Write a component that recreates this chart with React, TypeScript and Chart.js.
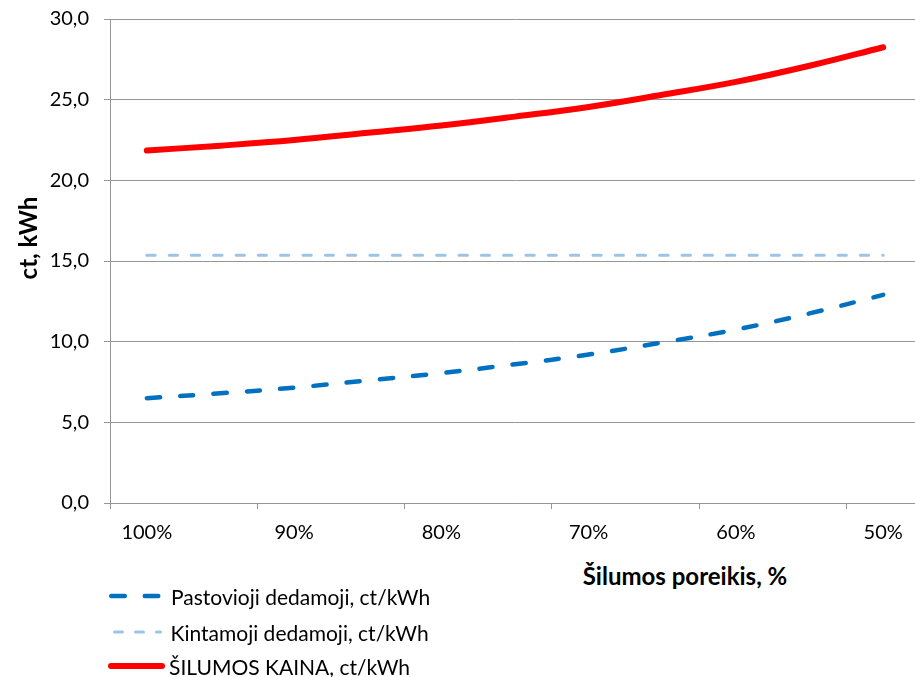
import React, { useEffect, useRef } from "react";
import { Chart, registerables } from "chart.js";

Chart.register(...registerables);

// ---- data ----
const categories = ["100%", "95%", "90%", "85%", "80%", "75%", "70%", "65%", "60%", "55%", "50%"];
const pastovioji = [6.5, 6.8, 7.15, 7.6, 8.05, 8.6, 9.2, 9.95, 10.75, 11.75, 12.9];
const kintamoji = [15.35, 15.35, 15.35, 15.35, 15.35, 15.35, 15.35, 15.35, 15.35, 15.35, 15.35];
const kaina = [21.85, 22.15, 22.5, 22.95, 23.4, 23.95, 24.55, 25.3, 26.1, 27.1, 28.25];
const seriesNames = ["Pastovioji dedamoji, ct/kWh", "Kintamoji dedamoji, ct/kWh", "ŠILUMOS KAINA, ct/kWh"];
const xAxisTitle = "Šilumos poreikis, %";
const yAxisTitle = "ct, kWh";
const yMin = 0;
const yMax = 30;
const yStep = 5;

const FONT = "Lato, 'Noto Sans', sans-serif";
const GRID = "#969696";
const BLUE = "#0070C0";
const LIGHT = "#9DC3E6";
const RED = "#FF0000";

export default function App() {
  const canvasRef = useRef<HTMLCanvasElement | null>(null);

  useEffect(() => {
    if (!canvasRef.current) return;
    const chart = new Chart(canvasRef.current, {
      type: "line",
      data: {
        labels: categories,
        datasets: [
          {
            label: seriesNames[0],
            data: pastovioji,
            borderColor: BLUE,
            borderWidth: 4.5,
            borderDash: [13.2, 20.2],
            borderCapStyle: "round",
            borderJoinStyle: "round",
            pointRadius: 0,
            tension: 0.4,
            fill: false,
          },
          {
            label: seriesNames[1],
            data: kintamoji,
            borderColor: LIGHT,
            borderWidth: 3,
            borderDash: [8.3, 14],
            borderCapStyle: "round",
            pointRadius: 0,
            tension: 0.4,
            fill: false,
          },
          {
            label: seriesNames[2],
            data: kaina,
            borderColor: RED,
            borderWidth: 6,
            borderCapStyle: "round",
            borderJoinStyle: "round",
            pointRadius: 0,
            tension: 0.4,
            fill: false,
          },
        ],
      },
      options: {
        animation: false,
        responsive: true,
        maintainAspectRatio: false,
        layout: { padding: { top: 19, left: 0, right: 0, bottom: 0 } },
        plugins: {
          legend: { display: false },
          tooltip: { enabled: false },
          title: { display: false },
        },
        scales: {
          x: {
            type: "category",
            offset: true,
            grid: {
              offset: true,
              drawOnChartArea: false,
              drawTicks: true,
              tickLength: 6,
              color: (ctx: any) =>
                ctx.index !== undefined && ctx.index % 2 === 0 ? GRID : "rgba(0,0,0,0)",
            },
            border: { display: true, color: GRID, width: 1 },
            ticks: {
              autoSkip: false,
              maxRotation: 0,
              minRotation: 0,
              padding: 12,
              color: "#000",
              font: { family: FONT, size: 20 },
              callback: (_v: any, i: number) => (i % 2 === 0 ? categories[i] : ""),
            },
            afterFit: (scale: any) => {
              scale.height = 37;
              scale.paddingLeft = 0;
              scale.paddingRight = 0;
            },
          },
          y: {
            min: yMin,
            max: yMax,
            grid: {
              color: GRID,
              lineWidth: 1,
              drawTicks: true,
              tickLength: 6,
            },
            border: { display: true, color: GRID, width: 1 },
            ticks: {
              stepSize: yStep,
              padding: 15,
              color: "#000",
              font: { family: FONT, size: 20 },
              callback: (v: any) => Number(v).toFixed(1).replace(".", ","),
            },
            afterFit: (scale: any) => {
              scale.width = 110;
              scale.paddingTop = 0;
              scale.paddingBottom = 0;
            },
          },
        },
      },
    });
    return () => chart.destroy();
  }, []);

  const textStyle: React.CSSProperties = {
    position: "absolute",
    fontFamily: FONT,
    fontSize: 21,
    color: "#000",
    whiteSpace: "nowrap",
    lineHeight: 1,
    transform: "translateY(-50%)",
  };

  return (
    <div
      style={{
        position: "fixed",
        left: 0,
        top: 0,
        width: 915,
        height: 677,
        overflow: "hidden",
        background: "#fff",
      }}
    >
      <div style={{ position: "absolute", left: 0, top: 0, width: 920, height: 540 }}>
        <canvas ref={canvasRef} />
      </div>
      <div
        style={{
          position: "absolute",
          left: 27.5,
          top: 238,
          transform: "translate(-50%, -50%) rotate(-90deg)",
          fontFamily: FONT,
          fontWeight: 700,
          fontSize: 24,
          lineHeight: 1,
          whiteSpace: "nowrap",
          color: "#000",
        }}
      >
        {yAxisTitle}
      </div>
      <div
        style={{
          position: "absolute",
          left: 685,
          top: 576,
          transform: "translate(-50%, -50%)",
          fontFamily: FONT,
          fontWeight: 700,
          fontSize: 24,
          lineHeight: 1,
          whiteSpace: "nowrap",
          color: "#000",
        }}
      >
        {xAxisTitle}
      </div>
      <svg
        width={915}
        height={677}
        style={{ position: "absolute", left: 0, top: 0, pointerEvents: "none" }}
      >
        <line x1={111.25} y1={596} x2={158.75} y2={596} stroke={BLUE} strokeWidth={4.5} strokeDasharray="13.5 20" strokeLinecap="round" />
        <line x1={114.5} y1={632} x2={160.5} y2={632} stroke={LIGHT} strokeWidth={3} strokeDasharray="8 13" strokeLinecap="round" />
        <line x1={111} y1={666} x2={162} y2={666} stroke={RED} strokeWidth={6} strokeLinecap="round" />
      </svg>
      <div style={{ ...textStyle, left: 171, top: 596 }}>{seriesNames[0]}</div>
      <div style={{ ...textStyle, left: 170.5, top: 632 }}>{seriesNames[1]}</div>
      <div style={{ ...textStyle, left: 169, top: 666 }}>{seriesNames[2]}</div>
    </div>
  );
}
